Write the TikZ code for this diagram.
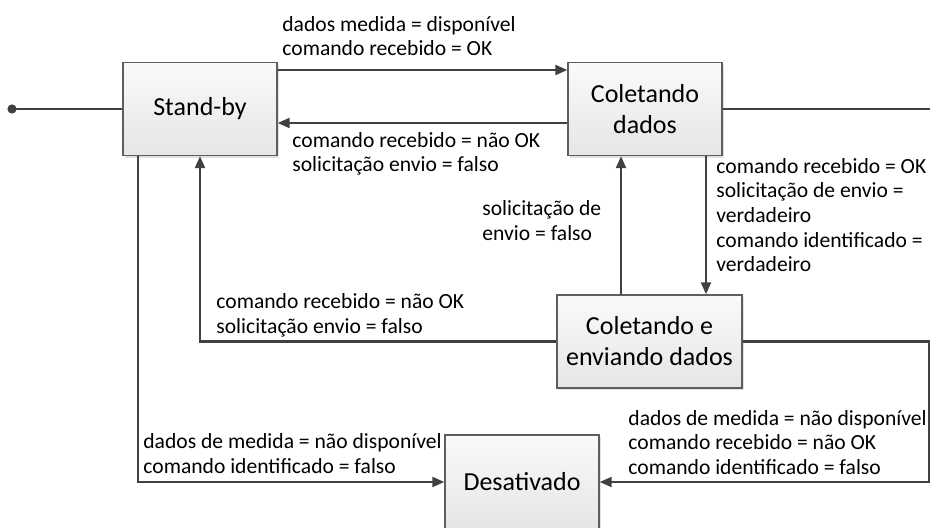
\documentclass[tikz,border=0pt]{standalone}
\usepackage{fontspec}
\setmainfont{Carlito}
\usetikzlibrary{arrows.meta,shadows}
\definecolor{linegray}{HTML}{404040}
\definecolor{boxgray}{HTML}{5E5E5E}
\tikzset{
  state/.style={draw=boxgray,line width=0.7pt,top color=white!98!black,bottom color=white!90!black,
    minimum width=77pt,minimum height=46.5pt,align=center,font=\fontsize{13}{15.5}\selectfont,
    drop shadow={shadow xshift=1.2pt,shadow yshift=-1.2pt,fill=black,opacity=0.12}},
  trans/.style={draw=linegray,line width=1.1pt,-{Triangle[length=6pt,width=5pt]}},
  lbl/.style={anchor=west,align=left,inner sep=0pt,font=\fontsize{10.8}{12.3}\selectfont}
}
\begin{document}
\begin{tikzpicture}[x=0.5pt,y=-0.5pt]
\useasboundingbox (0,0) rectangle (930,528);
\clip (0,0) rectangle (930,528);
% states
\node[state] (sb) at (200,109) {Stand-by};
\node[state] (cd) at (645,109) {Coletando\\dados};
\node[state,minimum width=92.5pt] (ce) at (649.5,341.5) {Coletando e\\enviando dados};
\node[state,minimum height=47pt] (de) at (522,482) {Desativado};
\coordinate (ini) at (12,109);
\coordinate (rgt) at (929,0);
\coordinate (out) at (940,109);
% transitions
\fill[linegray] (ini) circle (2.3pt);
\draw[trans,-] (ini) -- (sb.west);
\draw[trans] ([yshift=19.5pt]sb.east) -- ([yshift=19.5pt]sb.east -| cd.west);
\draw[trans] ([yshift=-7pt]cd.west) -- ([yshift=-7pt]cd.west -| sb.east);
\draw[trans,-] (cd.east) -- (out);
\draw[trans] ([xshift=30.5pt]cd.south) -- ([xshift=30.5pt]cd.south |- ce.north);
\draw[trans] ([xshift=-14.25pt]ce.north) -- ([xshift=-14.25pt]ce.north |- cd.south);
\draw[trans] (ce.west) -| (sb.south);
\draw[trans] (ce.east) -- (ce.east -| rgt) |- (de.east);
\draw[trans] ([xshift=-31pt]sb.south) |- (de.west);
% labels
\node[lbl] (l1) at (282,36) {dados medida = disponível\\comando recebido = OK};
\node[lbl] (l2) at (292,154) {comando recebido = não OK\\solicitação envio = falso};
\node[lbl] (l3) at (482,220.5) {solicitação de\\envio = falso};
\node[lbl] (l4) at (716,215) {comando recebido = OK\\solicitação de envio =\\verdadeiro\\comando identificado =\\verdadeiro};
\node[lbl] (l5) at (216,315.5) {comando recebido = não OK\\solicitação envio = falso};
\node[lbl] (l6) at (628,442.5) {dados de medida = não disponível\\comando recebido = não OK\\comando identificado = falso};
\node[lbl] (l7) at (143,453.5) {dados de medida = não disponível\\comando identificado = falso};
\end{tikzpicture}
\end{document}
